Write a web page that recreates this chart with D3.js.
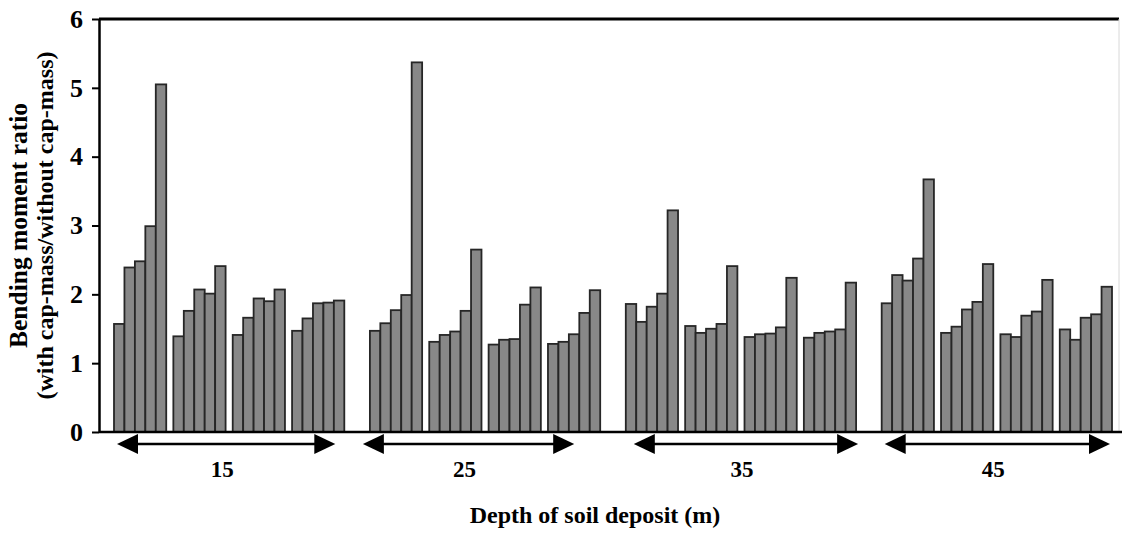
<!DOCTYPE html>
<html>
<head>
<meta charset="utf-8">
<script src="https://cdn.jsdelivr.net/npm/d3@7"></script>
<style>
  body { margin: 0; background: #fff; }
  text { font-family: "Liberation Serif", "Times New Roman", serif; font-weight: bold; fill: #000; }
</style>
</head>
<body>
<svg id="chart" width="1122" height="533"></svg>
<script>
// depth of soil deposit (m)
const depths = ['15', '25', '35', '45']
// four cases per depth, five bars per case
const cases = ['c1', 'c2', 'c3', 'c4']
const barIds = ['b1', 'b2', 'b3', 'b4', 'b5']

// bending moment ratio (with cap-mass / without cap-mass)
const ratio15 = [
    [1.57, 2.39, 2.48, 2.99, 5.05],
    [1.39, 1.76, 2.07, 2.01, 2.41],
    [1.41, 1.66, 1.94, 1.90, 2.07],
    [1.47, 1.65, 1.87, 1.88, 1.91]
]
const ratio25 = [
    [1.47, 1.58, 1.77, 1.99, 5.37],
    [1.31, 1.41, 1.46, 1.76, 2.65],
    [1.27, 1.34, 1.35, 1.85, 2.10],
    [1.28, 1.31, 1.42, 1.73, 2.06]
]
const ratio35 = [
    [1.86, 1.60, 1.82, 2.01, 3.22],
    [1.54, 1.44, 1.50, 1.57, 2.41],
    [1.38, 1.42, 1.43, 1.52, 2.24],
    [1.37, 1.44, 1.46, 1.49, 2.17]
]
const ratio45 = [
    [1.87, 2.28, 2.20, 2.52, 3.67],
    [1.44, 1.53, 1.78, 1.89, 2.44],
    [1.42, 1.38, 1.69, 1.75, 2.21],
    [1.49, 1.34, 1.66, 1.71, 2.11]
]
const yTicks = [0, 1, 2, 3, 4, 5, 6]

const ratios = {'15': ratio15, '25': ratio25, '35': ratio35, '45': ratio45}

// flatten into one row per bar
let rows = []
depths.forEach(d => {
    ratios[d].forEach((caseVals, ci) => {
        caseVals.forEach((v, bi) => {
            rows.push({depth: d, kase: cases[ci], bar: barIds[bi], value: v})
        })
    })
})

let svg = d3.select('#chart')

let axisX = 99, plotTop = 19, plotBottom = 432

let y = d3.scaleLinear().domain([0, 6]).range([plotBottom, plotTop])

let x0 = d3.scaleBand().domain(depths).range([114, 1112]).paddingInner(0.1)
let x1 = d3.scaleBand().domain(cases).range([0, x0.bandwidth()]).paddingInner(0.12)
let x2 = d3.scaleBand().domain(barIds).range([0, x1.bandwidth()])

// bars
svg.append('g')
    .selectAll('rect')
    .data(rows)
    .enter().append('rect')
    .attr('x', d => x0(d.depth) + x1(d.kase) + x2(d.bar))
    .attr('y', d => y(d.value))
    .attr('width', x2.bandwidth())
    .attr('height', d => y(0) - y(d.value))
    .attr('fill', '#888')
    .attr('stroke', '#262626')
    .attr('stroke-width', 1.8)

// frame: top line, faint right edge, baseline
svg.append('line')
    .attr('x1', axisX).attr('x2', 1119)
    .attr('y1', plotTop).attr('y2', plotTop)
    .attr('stroke', '#000').attr('stroke-width', 3)
svg.append('line')
    .attr('x1', 1119).attr('x2', 1119)
    .attr('y1', plotTop).attr('y2', plotBottom)
    .attr('stroke', '#d8d8d8').attr('stroke-width', 1)
svg.append('line')
    .attr('x1', axisX).attr('x2', 1122)
    .attr('y1', plotBottom).attr('y2', plotBottom)
    .attr('stroke', '#000').attr('stroke-width', 2.5)

// y axis
let yAxis = svg.append('g')
    .attr('transform', `translate(${axisX},0)`)
    .call(d3.axisLeft(y).tickValues(yTicks).tickFormat(d3.format('d'))
        .tickSize(7).tickSizeOuter(0).tickPadding(9))
yAxis.select('.domain').attr('stroke-width', 2.5)
yAxis.selectAll('.tick line').attr('stroke-width', 2)
yAxis.selectAll('.tick text')
    .attr('font-size', 26)
    .attr('font-family', '"Liberation Serif", serif')
    .attr('font-weight', 'bold')

// y title, two lines
let yTitle = svg.append('g').attr('transform', `translate(0,${(plotTop + plotBottom) / 2}) rotate(-90)`)
yTitle.append('text')
    .attr('y', 27)
    .attr('text-anchor', 'middle')
    .attr('font-size', 25.5)
    .text('Bending moment ratio')
yTitle.append('text')
    .attr('y', 53)
    .attr('text-anchor', 'middle')
    .attr('font-size', 24)
    .text('(with cap-mass/without cap-mass)')

// double arrows under each depth group (hand-drawn in the original, so each
// one sits a little off its group: shifts of the left / right tips in px)
let arrowY = 444
let arrowShift = [[3, -9], [-7, -26], [8, 2], [3, -2]]
let arrows = svg.append('g')
depths.forEach((d, i) => {
    let xa = x0(d) + arrowShift[i][0]
    let xb = x0(d) + x0.bandwidth() + arrowShift[i][1]
    arrows.append('line')
        .attr('x1', xa + 15).attr('x2', xb - 15)
        .attr('y1', arrowY).attr('y2', arrowY)
        .attr('stroke', '#000').attr('stroke-width', 2.5)
    arrows.append('path')
        .attr('d', `M${xa},${arrowY} L${xa + 21},${arrowY - 10} L${xa + 21},${arrowY + 10} Z`)
        .attr('fill', '#000')
    arrows.append('path')
        .attr('d', `M${xb},${arrowY} L${xb - 21},${arrowY - 10} L${xb - 21},${arrowY + 10} Z`)
        .attr('fill', '#000')
    arrows.append('text')
        .attr('x', (xa + xb) / 2 - 4)
        .attr('y', 477)
        .attr('text-anchor', 'middle')
        .attr('font-size', 23)
        .text(d)
})

// x title
svg.append('text')
    .attr('x', 595)
    .attr('y', 523)
    .attr('text-anchor', 'middle')
    .attr('font-size', 24)
    .text('Depth of soil deposit (m)')
</script>
</body>
</html>
